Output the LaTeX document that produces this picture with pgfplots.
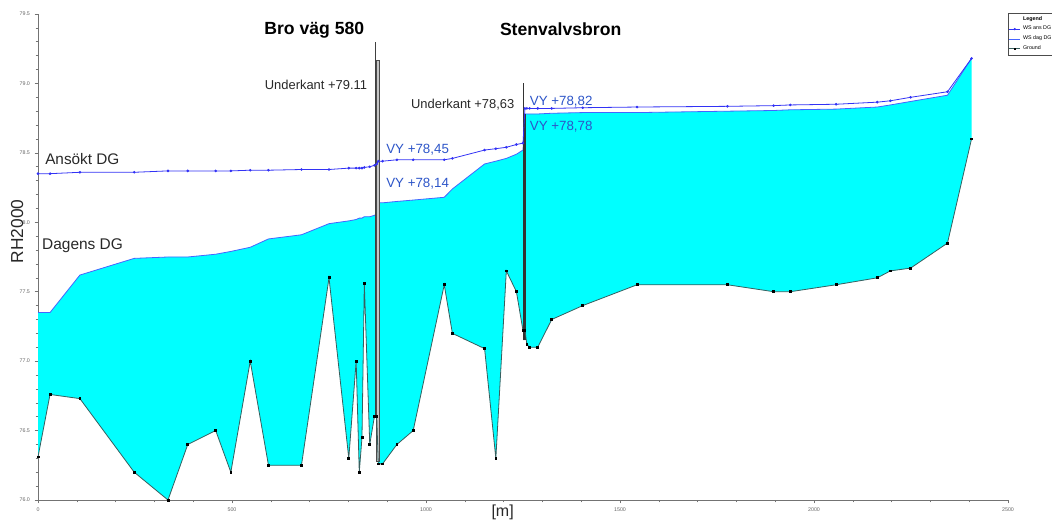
\documentclass[border=0pt]{standalone}
\usepackage{pgfplots}
\pgfplotsset{compat=1.18}
\usepackage{pgfplotstable}
\usepgfplotslibrary{fillbetween}
\usetikzlibrary{calc}
\usepackage{fontspec}
\setmainfont{Liberation Sans}

\definecolor{wsans}{RGB}{50,50,245}
\definecolor{wsdag}{RGB}{70,100,255}
\definecolor{groundc}{RGB}{55,95,95}
\definecolor{vyblue}{RGB}{45,85,200}
\definecolor{txt}{RGB}{40,40,40}
\definecolor{water}{RGB}{0,255,255}

\pgfplotstableread{
x g d a
0 76.31 77.35 78.35
31 76.76 77.35 78.35
108 76.73 77.62 78.36
248 76.20 77.74 78.36
335 76.00 77.75 78.37
386 76.40 77.75 78.37
458 76.50 77.77 78.37
497 76.20 77.79 78.37
547 77.00 77.82 78.375
594 76.25 77.88 78.375
679 76.25 77.91 78.38
750 77.60 77.99 78.38
801 76.30 78.01 78.39
820 77.00 78.02 78.39
828 76.20 78.03 78.39
835 76.45 78.03 78.39
841 77.56 78.04 78.395
855 76.40 78.04 78.40
867 76.60 78.05 78.41
873 76.60 78.06 78.42
877 76.26 78.14 78.44
888 76.26 78.14 78.44
925 76.40 78.15 78.45
967 76.50 78.16 78.45
1047 77.55 78.18 78.45
1068 77.20 78.24 78.46
1151 77.09 78.42 78.52
1180 76.30 78.44 78.53
1207 77.65 78.46 78.54
1233 77.50 78.49 78.56
1250 77.22 78.52 78.57
1255 77.22 78.78 78.82
1260 77.12 78.78 78.82
1267 77.10 78.78 78.82
1288 77.10 78.78 78.82
1324 77.30 78.785 78.82
1404 77.40 78.79 78.825
1544 77.55 78.79 78.83
1777 77.55 78.80 78.835
1896 77.50 78.805 78.84
1939 77.50 78.81 78.845
2057 77.55 78.815 78.85
2163 77.60 78.83 78.865
2197 77.65 78.845 78.875
2249 77.67 78.87 78.90
2344 77.85 78.915 78.94
2406 78.60 79.18 79.18
}\prof

\begin{document}
\begin{tikzpicture}
\begin{axis}[
  width=727.5pt, height=364.5pt, scale only axis,
  xmin=0, xmax=2500, ymin=76, ymax=79.5,
  axis x line=bottom, axis y line=left,
  axis line style={-, draw=black!55, line width=0.5pt},
  xtick={0,500,...,2500}, ytick={76,76.5,...,79.5},
  minor x tick num=4, minor y tick num=4,
  tick align=outside, major tick length=2.5pt, minor tick length=1.8pt,
  tick style={draw=black!55, line width=0.4pt},
  tick label style={font=\fontsize{4}{4}\selectfont, text=black!60},
  /pgf/number format/assume math mode=true,
  xticklabel style={/pgf/number format/1000 sep={}},
  yticklabel style={/pgf/number format/.cd, fixed, fixed zerofill, precision=1},
  clip=false,
  legend style={at={(rel axis cs:1,1)}, anchor=north west, xshift=0pt, yshift=1pt,
    font=\fontsize{4}{4.5}\selectfont, draw=black!70, inner sep=0.6pt, row sep=-1pt,
    legend cell align=left},
  legend image code/.code={\draw[mark repeat=2, mark phase=2, #1] plot coordinates {(0pt,0pt) (4pt,0pt) (8pt,0pt)};},
]
\coordinate (sw) at (rel axis cs:0,0);
\coordinate (ne) at (rel axis cs:1,1);

\addplot[name path=dag, draw=wsdag, line width=0.6pt, forget plot] table[x=x,y=d]{\prof};
\addplot[name path=gr, draw=none, forget plot] table[x=x,y=g]{\prof};
\addplot[water, forget plot] fill between[of=dag and gr];

% bridges
\addplot[draw=black!75, line width=0.5pt, forget plot] coordinates {(869,76.60) (869,79.30)};
\addplot[draw=black!70, fill=gray!45, line width=0.4pt, forget plot] coordinates {(872,76.28) (872,79.17) (880,79.17) (880,76.28)} -- cycle;
\addplot[draw=black!80, line width=0.5pt, forget plot] coordinates {(1252,77.15) (1252,79.00)};
\addplot[draw=black!80, line width=0.9pt, forget plot] coordinates {(1255,77.15) (1255,78.78)};

\addplot[draw=groundc, line width=0.6pt, mark=square*, mark size=0.7pt, mark options={fill=black, draw=black}, forget plot] table[x=x,y=g]{\prof};
\addplot[draw=wsans, line width=0.6pt, mark=*, mark size=0.65pt, mark options={fill=wsans, draw=wsans}, forget plot] table[x=x,y=a]{\prof};

\addlegendimage{empty legend}\addlegendentry{\textbf{Legend}}
\addlegendimage{wsans, line width=0.5pt, mark=*, mark size=0.5pt, mark options={fill=wsans}}\addlegendentry{WS ans DG}
\addlegendimage{wsdag, line width=0.5pt}\addlegendentry{WS dag DG}
\addlegendimage{groundc, line width=0.5pt, mark=square*, mark size=0.6pt, mark options={fill=black, draw=black}}\addlegendentry{Ground}

\node[font=\fontsize{13.2}{14}\selectfont\bfseries, text=black] at (axis cs:712,79.38) {Bro väg 580};
\node[font=\fontsize{13.2}{14}\selectfont\bfseries, text=black] at (axis cs:1347,79.39) {Stenvalvsbron};
\node[font=\fontsize{9.7}{11}\selectfont, text=txt, anchor=west, inner sep=0pt] at (axis cs:584,78.99) {Underkant +79.11};
\node[font=\fontsize{9.7}{11}\selectfont, text=txt, anchor=west, inner sep=0pt] at (axis cs:961,78.85) {Underkant +78,63};
\node[font=\fontsize{10}{11}\selectfont, text=vyblue, anchor=west, inner sep=0pt] at (axis cs:1267,78.87) {VY +78,82};
\node[font=\fontsize{10}{11}\selectfont, text=vyblue, anchor=west, inner sep=0pt] at (axis cs:1267,78.69) {VY +78,78};
\node[font=\fontsize{10}{11}\selectfont, text=vyblue, anchor=west, inner sep=0pt] at (axis cs:897,78.52) {VY +78,45};
\node[font=\fontsize{10}{11}\selectfont, text=vyblue, anchor=west, inner sep=0pt] at (axis cs:897,78.275) {VY +78,14};
\node[font=\fontsize{11.5}{12}\selectfont, text=txt, anchor=west, inner sep=0pt] at (axis cs:18,78.455) {Ansökt DG};
\node[font=\fontsize{11.6}{12}\selectfont, text=txt, anchor=west, inner sep=0pt] at (axis cs:10,77.83) {Dagens DG};
\node[font=\fontsize{13}{14}\selectfont, text=txt, rotate=90] at (axis description cs:-0.0216,0.553) {RH2000};
\node[font=\fontsize{12}{13}\selectfont, text=txt] at (axis description cs:0.479,-0.026) {[m]};
\end{axis}
\pgfresetboundingbox
\path[use as bounding box] ($(sw)+(-28.5pt,-15pt)$) rectangle ($(ne)+(33pt,10.5pt)$);
\end{tikzpicture}
\end{document}
